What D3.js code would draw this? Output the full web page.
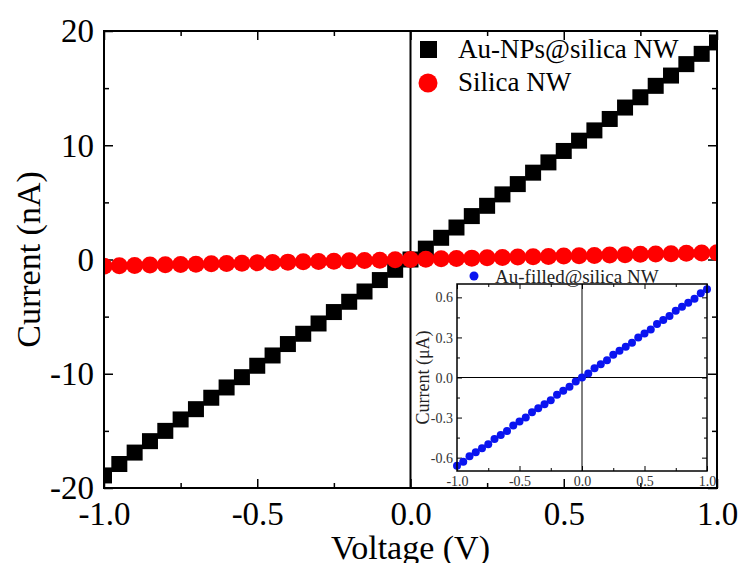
<!DOCTYPE html>
<html>
<head>
<meta charset="utf-8">
<script src="https://cdn.jsdelivr.net/npm/d3@7"></script>
<style>
  body { margin: 0; background: #fff; }
  svg { display: block; }
</style>
</head>
<body>
<svg></svg>
<script>
// voltage sweep (V)
let voltage = [-1.0, -0.95, -0.9, -0.85, -0.8, -0.75, -0.7, -0.65, -0.6, -0.55,
               -0.5, -0.45, -0.4, -0.35, -0.3, -0.25, -0.2, -0.15, -0.1, -0.05,
               0.0, 0.05, 0.1, 0.15, 0.2, 0.25, 0.3, 0.35, 0.4, 0.45,
               0.5, 0.55, 0.6, 0.65, 0.7, 0.75, 0.8, 0.85, 0.9, 0.95, 1.0]

// Au-NPs@silica NW current (nA)
let auNPs = [-18.9, -17.9, -16.9, -15.9, -15.0, -14.0, -13.1, -12.1, -11.2, -10.3,
             -9.3, -8.4, -7.4, -6.5, -5.6, -4.6, -3.7, -2.8, -1.8, -0.9,
             0.0, 0.95, 1.9, 2.8, 3.8, 4.7, 5.7, 6.6, 7.6, 8.5,
             9.5, 10.4, 11.3, 12.3, 13.3, 14.2, 15.2, 16.1, 17.1, 18.0, 19.0]

// Silica NW current (nA)
let silica = [-0.58, -0.55, -0.52, -0.49, -0.46, -0.44, -0.41, -0.38, -0.35, -0.32,
              -0.29, -0.26, -0.23, -0.20, -0.17, -0.15, -0.12, -0.09, -0.06, -0.03,
              0.0, 0.03, 0.06, 0.09, 0.12, 0.15, 0.18, 0.21, 0.24, 0.27,
              0.30, 0.33, 0.36, 0.39, 0.42, 0.45, 0.48, 0.51, 0.54, 0.57, 0.60]

// inset: Au-filled@silica NW current (uA)
let auFilled = [-0.66, -0.63, -0.59, -0.56, -0.53, -0.50, -0.46, -0.43, -0.40, -0.36,
                -0.33, -0.30, -0.26, -0.23, -0.20, -0.17, -0.13, -0.10, -0.07, -0.03,
                0.0, 0.03, 0.07, 0.10, 0.13, 0.17, 0.20, 0.23, 0.26, 0.30,
                0.33, 0.36, 0.40, 0.43, 0.46, 0.50, 0.53, 0.56, 0.59, 0.63, 0.66]

let xTicks = [-1.0, -0.5, 0.0, 0.5, 1.0]
let xMinor = [-0.75, -0.25, 0.25, 0.75]
let yTicks = [-20, -10, 0, 10, 20]
let yMinor = [-15, -5, 5, 15]
let insetYTicks = [-0.6, -0.3, 0.0, 0.3, 0.6]
let insetYMinor = [-0.45, -0.15, 0.15, 0.45]

let width = 740
let height = 563
let serif = '"Liberation Serif", "Times New Roman", Times, serif'
let m = {left: 104, right: 717, top: 31, bottom: 488}
let ins = {left: 457, right: 707, top: 284, bottom: 471}

let svg = d3.select('svg').attr('width', width).attr('height', height)

let x = d3.scaleLinear().domain([-1, 1]).range([m.left, m.right])
let y = d3.scaleLinear().domain([-20, 20]).range([m.bottom, m.top])
let xi = d3.scaleLinear().domain([-1, 1]).range([ins.left, ins.right])
let yi = d3.scaleLinear().domain([-0.7, 0.7]).range([ins.bottom, ins.top])

let fmt1 = d => d.toFixed(1)

svg.append('clipPath').attr('id', 'clip')
   .append('rect')
   .attr('x', m.left).attr('y', m.top)
   .attr('width', m.right - m.left).attr('height', m.bottom - m.top)

// zero line
svg.append('line')
   .attr('x1', x(0)).attr('x2', x(0))
   .attr('y1', m.top).attr('y2', m.bottom)
   .attr('stroke', '#000').attr('stroke-width', 2)

// axes with inward ticks on all sides, major + minor
const drawAxis = (parent, axis, tx, ty, major, minor, big, small, labels) => {
    let g = parent.append('g').attr('transform', 'translate(' + tx + ',' + ty + ')')
    g.call(axis.tickValues(major).tickSizeInner(-big).tickSizeOuter(0).tickFormat(labels ? fmt1 : ''))
    g.select('.domain').remove()
    let g2 = parent.append('g').attr('transform', 'translate(' + tx + ',' + ty + ')')
    g2.call(axis.tickValues(minor).tickSizeInner(-small).tickSizeOuter(0).tickFormat(''))
    g2.select('.domain').remove()
    g.selectAll('line').attr('stroke', '#000')
    g2.selectAll('line').attr('stroke', '#000')
    g.selectAll('text').style('font-family', serif)
    return g
}

let bx = drawAxis(svg, d3.axisBottom(x), 0, m.bottom, xTicks, xMinor, 9, 5, true)
bx.selectAll('text').attr('y', 37).attr('dy', null)
  .style('font-size', '33px').attr('fill', '#000')
drawAxis(svg, d3.axisTop(x), 0, m.top, xTicks, xMinor, 9, 5, false)
let ly = drawAxis(svg, d3.axisLeft(y), m.left, 0, yTicks, yMinor, 9, 5, true)
ly.selectAll('text').text(d => d).attr('x', -10).attr('dy', '0.33em')
  .style('font-size', '33px').attr('fill', '#000')
drawAxis(svg, d3.axisRight(y), m.right, 0, yTicks, yMinor, 9, 5, false)
svg.selectAll('.tick line').attr('stroke-width', 1.5)

// data
let plot = svg.append('g').attr('clip-path', 'url(#clip)')
plot.selectAll('rect.sq')
    .data(auNPs)
    .enter()
    .append('rect')
    .attr('class', 'sq')
    .attr('x', (d, i) => x(voltage[i]) - 8)
    .attr('y', d => y(d) - 8)
    .attr('width', 16).attr('height', 16)
    .attr('fill', '#000')

plot.selectAll('circle.rd')
    .data(silica)
    .enter()
    .append('circle')
    .attr('class', 'rd')
    .attr('cx', (d, i) => x(voltage[i]))
    .attr('cy', d => y(d))
    .attr('r', 8.5)
    .attr('fill', '#ff0000')

// frame
svg.append('rect')
   .attr('x', m.left).attr('y', m.top)
   .attr('width', m.right - m.left).attr('height', m.bottom - m.top)
   .attr('fill', 'none').attr('stroke', '#000').attr('stroke-width', 2)

// legend
svg.append('rect').attr('x', 420).attr('y', 41).attr('width', 17).attr('height', 17).attr('fill', '#000')
svg.append('circle').attr('cx', 428).attr('cy', 83).attr('r', 9.5).attr('fill', '#ff0000')
svg.append('text').attr('x', 458).attr('y', 58)
   .style('font-family', serif).style('font-size', '27px').text('Au-NPs@silica NW')
svg.append('text').attr('x', 458).attr('y', 91)
   .style('font-family', serif).style('font-size', '27px').text('Silica NW')

// axis titles
svg.append('text')
   .attr('transform', 'translate(40,' + ((m.top + m.bottom) / 2) + ') rotate(-90)')
   .attr('text-anchor', 'middle')
   .style('font-family', serif).style('font-size', '34px')
   .text('Current (nA)')
svg.append('text')
   .attr('x', x(0)).attr('y', 559)
   .attr('text-anchor', 'middle')
   .style('font-family', serif).style('font-size', '34px')
   .text('Voltage (V)')

// ---------- inset ----------
let inset = svg.append('g')
inset.append('rect')
     .attr('x', ins.left).attr('y', ins.top)
     .attr('width', ins.right - ins.left).attr('height', ins.bottom - ins.top)
     .attr('fill', '#fff')
inset.append('line')
     .attr('x1', xi(0)).attr('x2', xi(0)).attr('y1', ins.top).attr('y2', ins.bottom)
     .attr('stroke', '#000').attr('stroke-width', 1)
inset.append('line')
     .attr('x1', ins.left).attr('x2', ins.right).attr('y1', yi(0)).attr('y2', yi(0))
     .attr('stroke', '#000').attr('stroke-width', 1)

let ibx = drawAxis(inset, d3.axisBottom(xi), 0, ins.bottom, xTicks, xMinor, 5, 3, true)
ibx.selectAll('text').attr('y', 15).attr('dy', null).style('font-size', '14px').attr('fill', '#333')
drawAxis(inset, d3.axisTop(xi), 0, ins.top, xTicks, xMinor, 5, 3, false)
let ily = drawAxis(inset, d3.axisLeft(yi), ins.left, 0, insetYTicks, insetYMinor, 5, 3, true)
ily.selectAll('text').attr('x', -4).attr('dy', '0.33em').style('font-size', '14px').attr('fill', '#333')
drawAxis(inset, d3.axisRight(yi), ins.right, 0, insetYTicks, insetYMinor, 5, 3, false)

inset.selectAll('circle.bl')
     .data(auFilled)
     .enter()
     .append('circle')
     .attr('class', 'bl')
     .attr('cx', (d, i) => xi(voltage[i]))
     .attr('cy', d => yi(d))
     .attr('r', 4)
     .attr('fill', '#0a14f0')

inset.append('rect')
     .attr('x', ins.left).attr('y', ins.top)
     .attr('width', ins.right - ins.left).attr('height', ins.bottom - ins.top)
     .attr('fill', 'none').attr('stroke', '#000').attr('stroke-width', 1.5)

inset.append('text')
     .attr('transform', 'translate(429,' + ((ins.top + ins.bottom) / 2) + ') rotate(-90)')
     .attr('text-anchor', 'middle')
     .style('font-family', serif).style('font-size', '18px').attr('fill', '#222')
     .text('Current (μA)')

inset.append('circle').attr('cx', 474).attr('cy', 276).attr('r', 4.5).attr('fill', '#0a14f0')
inset.append('text').attr('x', 495).attr('y', 283)
     .style('font-family', serif).style('font-size', '19px').attr('fill', '#222')
     .text('Au-filled@silica NW')
</script>
</body>
</html>
